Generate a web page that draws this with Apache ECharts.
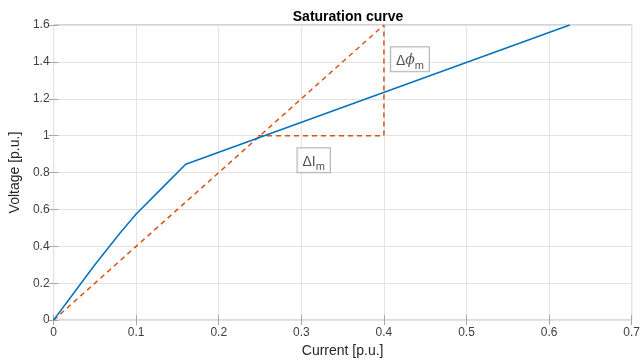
<!DOCTYPE html>
<html>
<head>
<meta charset="utf-8">
<script src="https://cdn.jsdelivr.net/npm/echarts@6/dist/echarts.min.js"></script>
<style>
  html, body { margin: 0; padding: 0; background: #fff; }
  #chart { width: 643px; height: 363px; }
</style>
</head>
<body>
<div id="chart"></div>
<script>
// magnetising curve (current, voltage) in p.u.
const curveI = [0, 0.02, 0.05, 0.08, 0.1, 0.13, 0.16, 0.625];
const curveV = [0, 0.12, 0.3, 0.47, 0.575, 0.71, 0.845, 1.6];

// air-gap line and the delta construction
const slopeI = [0, 0.4];
const slopeV = [0, 1.6];
const deltaI = [0.2475, 0.4, 0.4];
const deltaV = [1.0, 1.0, 1.6];

// annotation anchors
const noteI = [0.4315, 0.315];
const noteV = [1.414, 0.867];

const xTicks = [0, 0.1, 0.2, 0.3, 0.4, 0.5, 0.6, 0.7];
const yTicks = [0, 0.2, 0.4, 0.6, 0.8, 1, 1.2, 1.4, 1.6];

const BLUE = "#0072bd";
const ORANGE = "#d95319";
const FONT = "Liberation Sans";

const zip = (a, b) => a.map((v, i) => [v, b[i]]);

const noteRich = {
  d: { fontFamily: FONT, fontSize: 14, color: "#262626" },
  phi: { fontFamily: "DejaVu Serif", fontStyle: "italic", fontSize: 14, color: "#262626" },
  i: { fontFamily: FONT, fontSize: 14, color: "#262626" },
  sub: { fontFamily: FONT, fontSize: 11, color: "#262626", padding: [10, 0, 0, 0] },
};
const noteLabel = (text) => ({
  show: true,
  position: "inside",
  formatter: text,
  rich: noteRich,
  backgroundColor: "#fff",
  borderColor: "#a0a0a0",
  borderWidth: 1,
  padding: [3, 5, 0, 5],
});

const chart = echarts.init(document.getElementById("chart"), null, { renderer: "canvas" });

const tick = { show: true, inside: true, length: 5, lineStyle: { color: "#a6a6a6" } };
const baseX = {
  type: "value",
  min: xTicks[0],
  max: xTicks[xTicks.length - 1],
  interval: 0.1,
  axisTick: tick,
  axisLabel: { show: false },
  axisLine: { show: false },
  splitLine: { show: false },
};
const baseY = {
  type: "value",
  min: yTicks[0],
  max: yTicks[yTicks.length - 1],
  interval: 0.2,
  axisTick: tick,
  axisLabel: { show: false },
  axisLine: { show: false },
  splitLine: { show: false },
};

chart.setOption({
  animation: false,
  title: {
    text: "Saturation curve",
    left: 343,
    textAlign: "center",
    top: 5,
    textStyle: { fontFamily: FONT, fontSize: 14, fontWeight: "bold", color: "#000" },
  },
  grid: {
    left: 51, right: 8, top: 25, bottom: 41,
    show: true, borderColor: "#a6a6a6", borderWidth: 1, backgroundColor: "#fff",
  },
  xAxis: [
    {
      ...baseX,
      position: "bottom",
      name: "Current [p.u.]",
      nameLocation: "middle",
      nameGap: 23,
      nameTextStyle: { fontFamily: FONT, fontSize: 14, color: "#262626" },
      axisLabel: { show: true, fontFamily: FONT, fontSize: 12, color: "#404040", margin: 7 },
      splitLine: { show: true, lineStyle: { color: "#e3e3e3", width: 1 } },
    },
    { ...baseX, position: "top" },
  ],
  yAxis: [
    {
      ...baseY,
      position: "left",
      name: "Voltage [p.u.]",
      nameLocation: "middle",
      nameGap: 26,
      nameTextStyle: { fontFamily: FONT, fontSize: 14, color: "#262626" },
      axisLabel: { show: true, fontFamily: FONT, fontSize: 12, color: "#404040", margin: 4 },
      splitLine: { show: true, lineStyle: { color: "#e3e3e3", width: 1 } },
    },
    { ...baseY, position: "right" },
  ],
  series: [
    {
      type: "line",
      data: zip(slopeI, slopeV),
      symbol: "none",
      lineStyle: { color: ORANGE, width: 1.5, type: [5, 4] },
      z: 3,
    },
    {
      type: "line",
      data: zip(deltaI, deltaV),
      symbol: "none",
      lineStyle: { color: ORANGE, width: 1.5, type: [5, 4] },
      z: 3,
    },
    {
      type: "line",
      data: zip(curveI, curveV),
      symbol: "none",
      lineStyle: { color: BLUE, width: 1.5 },
      z: 4,
    },
    {
      type: "scatter",
      data: [
        { value: [noteI[0], noteV[0]], label: noteLabel("{d|Δ}{phi|ϕ}{sub|m}") },
        { value: [noteI[1], noteV[1]], label: noteLabel("{d|Δ}{i|I}{sub|m}") },
      ],
      symbolSize: 1,
      itemStyle: { color: "transparent" },
      z: 5,
    },
  ],
});
</script>
</body>
</html>
